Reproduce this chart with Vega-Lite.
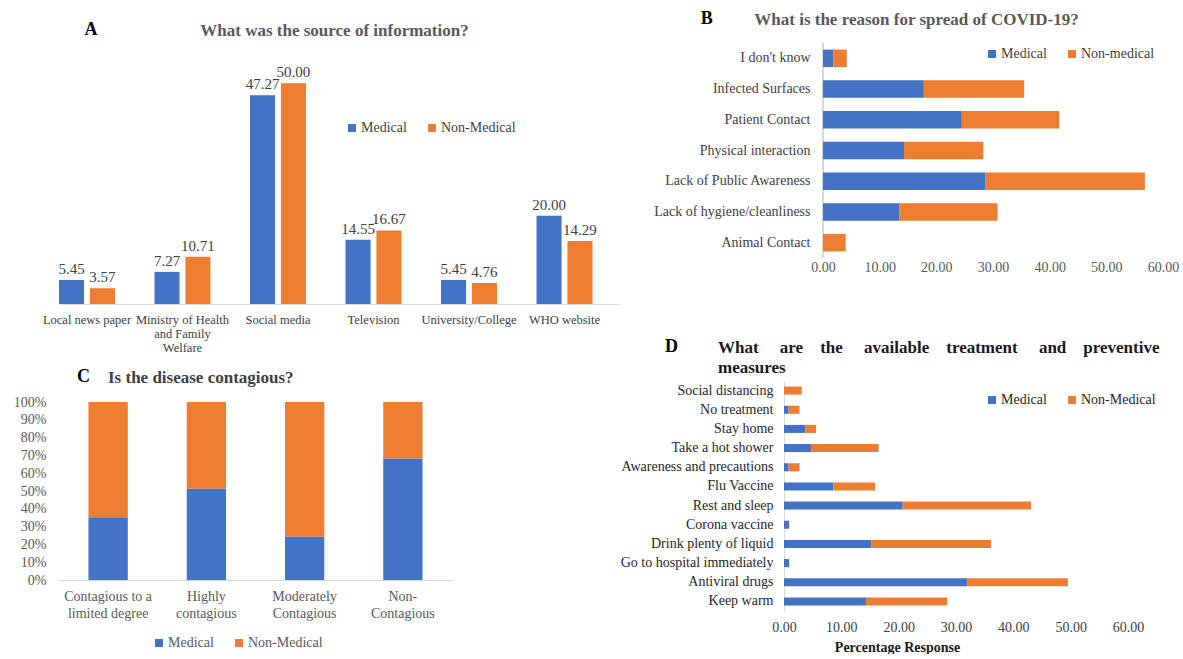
{
  "$schema": "https://vega.github.io/schema/vega-lite/v6.json",
  "background": "white",
  "padding": {"left": 12, "top": 9, "right": 0, "bottom": 0},
  "config": {
    "font": "Liberation Serif",
    "view": {"stroke": null},
    "axis": {"labelFont": "Liberation Serif", "titleFont": "Liberation Serif", "grid": false, "ticks": false},
    "legend": {"labelFont": "Liberation Serif", "titleFont": "Liberation Serif"},
    "title": {"font": "Liberation Serif"}
  },
  "spacing": 0,
  "resolve": {"scale": {"color": "independent"}, "legend": {"color": "independent"}},
  "hconcat": [
    {
      "concat": [
        {
          "title": {"text": "A", "anchor": "start", "fontSize": 18, "fontWeight": "bold", "color": "#000000", "dx": 42, "dy": 17, "offset": 0},
          "resolve": {"scale": {"color": "independent"}, "legend": {"color": "independent"}},
          "hconcat": [
            {
              "width": 561,
              "height": 261,
              "title": {"text": "What was the source of information?", "anchor": "middle", "dx": -5, "fontSize": 17, "fontWeight": "bold", "color": "#595959", "offset": 3},
              "data": {"values": [
                {"source": "Local news paper", "group": "Medical", "value": 5.45},
                {"source": "Local news paper", "group": "Non-Medical", "value": 3.57},
                {"source": "Ministry of Health and Family Welfare", "group": "Medical", "value": 7.27},
                {"source": "Ministry of Health and Family Welfare", "group": "Non-Medical", "value": 10.71},
                {"source": "Social media", "group": "Medical", "value": 47.27},
                {"source": "Social media", "group": "Non-Medical", "value": 50.0},
                {"source": "Television", "group": "Medical", "value": 14.55},
                {"source": "Television", "group": "Non-Medical", "value": 16.67},
                {"source": "University/College", "group": "Medical", "value": 5.45},
                {"source": "University/College", "group": "Non-Medical", "value": 4.76},
                {"source": "WHO website", "group": "Medical", "value": 20.0},
                {"source": "WHO website", "group": "Non-Medical", "value": 14.29}
              ]},
              "encoding": {
                "x": {
                  "field": "source", "type": "nominal",
                  "sort": ["Local news paper", "Ministry of Health and Family Welfare", "Social media", "Television", "University/College", "WHO website"],
                  "scale": {"paddingInner": 0.414, "paddingOuter": 0.144, "align": 0},
                  "axis": {"title": null, "labelAngle": 0, "labelFontSize": 12.5, "labelColor": "#404040", "labelPadding": 9, "labelLineHeight": 14, "domainColor": "#d9d9d9", "labelOverlap": false,
                    "labelExpr": "datum.value == 'Ministry of Health and Family Welfare' ? ['Ministry of Health', 'and Family', 'Welfare'] : datum.value"}
                },
                "xOffset": {"field": "group", "type": "nominal", "sort": ["Medical", "Non-Medical"], "scale": {"paddingInner": 0.19, "paddingOuter": 0}},
                "y": {"field": "value", "type": "quantitative", "scale": {"domain": [0, 59.1]}, "axis": null}
              },
              "layer": [
                {
                  "mark": {"type": "bar"},
                  "encoding": {
                    "color": {"field": "group", "type": "nominal",
                      "scale": {"domain": ["Medical", "Non-Medical"], "range": ["#4472C4", "#ED7D31"]},
                      "legend": {"title": null, "orient": "none", "legendX": 286, "legendY": 78, "direction": "horizontal", "symbolType": "square", "symbolSize": 64, "symbolStrokeWidth": 0, "labelFontSize": 14, "labelColor": "#404040", "labelOffset": 2, "columnPadding": 18}}
                  }
                },
                {
                  "mark": {"type": "text", "dy": -11, "fontSize": 15, "color": "#404040"},
                  "encoding": {"text": {"field": "value", "type": "quantitative", "format": ".2f"}}
                }
              ]
            }
          ]
        },
        {
          "title": {"text": "C", "anchor": "start", "fontSize": 18, "fontWeight": "bold", "color": "#000000", "dx": 65, "dy": 17, "offset": 0},
          "resolve": {"scale": {"color": "independent"}, "legend": {"color": "independent"}},
          "hconcat": [
            {
              "width": 393,
              "height": 178,
              "title": {"text": "Is the disease contagious?", "anchor": "start", "frame": "group", "dx": 49, "fontSize": 17, "fontWeight": "bold", "color": "#404040", "offset": 8},
              "data": {"values": [
                {"category": "Contagious to a limited degree", "group": "Medical", "value": 35.3},
                {"category": "Contagious to a limited degree", "group": "Non-Medical", "value": 64.7},
                {"category": "Highly contagious", "group": "Medical", "value": 51.4},
                {"category": "Highly contagious", "group": "Non-Medical", "value": 48.6},
                {"category": "Moderately Contagious", "group": "Medical", "value": 24.4},
                {"category": "Moderately Contagious", "group": "Non-Medical", "value": 75.6},
                {"category": "Non-Contagious", "group": "Medical", "value": 68.3},
                {"category": "Non-Contagious", "group": "Non-Medical", "value": 31.7}
              ]},
              "mark": {"type": "bar"},
              "encoding": {
                "x": {
                  "field": "category", "type": "nominal",
                  "sort": ["Contagious to a limited degree", "Highly contagious", "Moderately Contagious", "Non-Contagious"],
                  "scale": {"paddingInner": 0.6, "paddingOuter": 0.3},
                  "axis": {"title": null, "labelAngle": 0, "labelFontSize": 14, "labelColor": "#595959", "labelPadding": 9, "labelLineHeight": 17, "domainColor": "#d9d9d9", "labelOverlap": false,
                    "labelExpr": "datum.value == 'Contagious to a limited degree' ? ['Contagious to a', 'limited degree'] : datum.value == 'Highly contagious' ? ['Highly', 'contagious'] : datum.value == 'Moderately Contagious' ? ['Moderately', 'Contagious'] : ['Non-', 'Contagious']"}
                },
                "y": {"field": "value", "type": "quantitative", "stack": "normalize",
                  "axis": {"title": null, "values": [0, 0.1, 0.2, 0.3, 0.4, 0.5, 0.6, 0.7, 0.8, 0.9, 1], "format": ".0%", "domain": false, "labelFontSize": 14, "labelColor": "#595959", "labelPadding": 13, "minExtent": 47, "maxExtent": 47}},
                "order": {"field": "group", "sort": "ascending"},
                "color": {"field": "group", "type": "nominal",
                  "scale": {"domain": ["Medical", "Non-Medical"], "range": ["#4472C4", "#ED7D31"]},
                  "legend": {"title": null, "orient": "none", "legendX": 93, "legendY": 234, "direction": "horizontal", "symbolType": "square", "symbolSize": 64, "symbolStrokeWidth": 0, "labelFontSize": 14, "labelColor": "#595959", "labelOffset": 2, "columnPadding": 18}}
              }
            }
          ]
        }
      ],
      "columns": 1,
      "spacing": 14,
      "resolve": {"scale": {"color": "independent"}, "legend": {"color": "independent"}}
    },
    {
      "concat": [
        {
          "title": {"text": "B", "anchor": "start", "fontSize": 18, "fontWeight": "bold", "color": "#000000", "dx": 47, "dy": 17, "offset": 0},
          "resolve": {"scale": {"color": "independent"}, "legend": {"color": "independent"}},
          "hconcat": [
            {
              "width": 379,
              "height": 215,
              "title": {"text": "What is the reason for spread of COVID-19?", "anchor": "middle", "dx": -57, "fontSize": 17, "fontWeight": "bold", "color": "#595959", "offset": 14},
              "data": {"values": [
                {"reason": "I don't know", "group": "Medical", "value": 1.8},
                {"reason": "I don't know", "group": "Non-medical", "value": 2.4},
                {"reason": "Infected Surfaces", "group": "Medical", "value": 17.8},
                {"reason": "Infected Surfaces", "group": "Non-medical", "value": 17.7},
                {"reason": "Patient Contact", "group": "Medical", "value": 24.5},
                {"reason": "Patient Contact", "group": "Non-medical", "value": 17.2},
                {"reason": "Physical interaction", "group": "Medical", "value": 14.3},
                {"reason": "Physical interaction", "group": "Non-medical", "value": 14.0},
                {"reason": "Lack of Public Awareness", "group": "Medical", "value": 28.7},
                {"reason": "Lack of Public Awareness", "group": "Non-medical", "value": 28.1},
                {"reason": "Lack of hygiene/cleanliness", "group": "Medical", "value": 13.5},
                {"reason": "Lack of hygiene/cleanliness", "group": "Non-medical", "value": 17.3},
                {"reason": "Animal Contact", "group": "Medical", "value": 0},
                {"reason": "Animal Contact", "group": "Non-medical", "value": 4.0}
              ]},
              "layer": [
                {
                  "mark": {"type": "rule", "color": "#d9d9d9", "strokeWidth": 1},
                  "encoding": {"x": {"datum": 0, "type": "quantitative"}}
                },
                {
                  "mark": {"type": "bar"},
                  "encoding": {
                    "y": {
                      "field": "reason", "type": "nominal",
                      "sort": ["I don't know", "Infected Surfaces", "Patient Contact", "Physical interaction", "Lack of Public Awareness", "Lack of hygiene/cleanliness", "Animal Contact"],
                      "scale": {"paddingInner": 0.43, "paddingOuter": 0.215},
                      "axis": {"title": null, "labelFontSize": 14, "labelColor": "#404040", "labelPadding": -26, "domain": false, "labelLimit": 300}
                    },
                    "x": {"field": "value", "type": "quantitative", "stack": "zero", "scale": {"domain": [-6.88, 60], "nice": false, "zero": false},
                      "axis": {"title": null, "values": [0, 10, 20, 30, 40, 50, 60], "format": ".2f", "domain": false, "labelFlush": false, "labelFontSize": 14, "labelColor": "#595959", "labelPadding": 2}},
                    "color": {"field": "group", "type": "nominal",
                      "scale": {"domain": ["Medical", "Non-medical"], "range": ["#4472C4", "#ED7D31"]},
                      "legend": {"title": null, "orient": "none", "legendX": 201, "legendY": 4, "direction": "horizontal", "symbolType": "square", "symbolSize": 64, "symbolStrokeWidth": 0, "labelFontSize": 14, "labelColor": "#404040", "labelOffset": 2, "columnPadding": 18}}
                  }
                }
              ]
            }
          ]
        },
        {
          "title": {"text": "D", "anchor": "start", "fontSize": 18, "fontWeight": "bold", "color": "#000000", "dx": 45, "dy": 17, "offset": 0},
          "resolve": {"scale": {"color": "independent"}, "legend": {"color": "independent"}},
          "hconcat": [
            {
              "width": 344,
              "height": 230,
              "title": {"text": ["What\u00a0\u00a0\u00a0\u00a0\u00a0are\u00a0\u00a0\u00a0\u00a0the\u00a0\u00a0\u00a0\u00a0\u00a0available\u00a0\u00a0\u00a0\u00a0treatment\u00a0\u00a0\u00a0\u00a0\u00a0and\u00a0\u00a0\u00a0\u00a0preventive", "measures"], "anchor": "start", "frame": "group", "dx": -66, "fontSize": 17, "fontWeight": "bold", "color": "#1a1a1a", "lineHeight": 20, "offset": 4},
              "data": {"values": [
                {"measure": "Social distancing", "group": "Medical", "value": 0},
                {"measure": "Social distancing", "group": "Non-Medical", "value": 3.1},
                {"measure": "No treatment", "group": "Medical", "value": 0.8},
                {"measure": "No treatment", "group": "Non-Medical", "value": 1.9},
                {"measure": "Stay home", "group": "Medical", "value": 3.7},
                {"measure": "Stay home", "group": "Non-Medical", "value": 1.9},
                {"measure": "Take a hot shower", "group": "Medical", "value": 4.7},
                {"measure": "Take a hot shower", "group": "Non-Medical", "value": 11.8},
                {"measure": "Awareness and precautions", "group": "Medical", "value": 0.8},
                {"measure": "Awareness and precautions", "group": "Non-Medical", "value": 1.9},
                {"measure": "Flu Vaccine", "group": "Medical", "value": 8.6},
                {"measure": "Flu Vaccine", "group": "Non-Medical", "value": 7.3},
                {"measure": "Rest and sleep", "group": "Medical", "value": 20.7},
                {"measure": "Rest and sleep", "group": "Non-Medical", "value": 22.4},
                {"measure": "Corona vaccine", "group": "Medical", "value": 0.9},
                {"measure": "Corona vaccine", "group": "Non-Medical", "value": 0},
                {"measure": "Drink plenty of liquid", "group": "Medical", "value": 15.2},
                {"measure": "Drink plenty of liquid", "group": "Non-Medical", "value": 20.9},
                {"measure": "Go to hospital immediately", "group": "Medical", "value": 0.9},
                {"measure": "Go to hospital immediately", "group": "Non-Medical", "value": 0},
                {"measure": "Antiviral drugs", "group": "Medical", "value": 32.0},
                {"measure": "Antiviral drugs", "group": "Non-Medical", "value": 17.5},
                {"measure": "Keep warm", "group": "Medical", "value": 14.3},
                {"measure": "Keep warm", "group": "Non-Medical", "value": 14.2}
              ]},
              "mark": {"type": "bar"},
              "encoding": {
                "y": {
                  "field": "measure", "type": "nominal",
                  "sort": ["Social distancing", "No treatment", "Stay home", "Take a hot shower", "Awareness and precautions", "Flu Vaccine", "Rest and sleep", "Corona vaccine", "Drink plenty of liquid", "Go to hospital immediately", "Antiviral drugs", "Keep warm"],
                  "scale": {"paddingInner": 0.58, "paddingOuter": 0.29},
                  "axis": {"title": null, "labelFontSize": 14, "labelColor": "#262626", "labelPadding": 11, "domainColor": "#d9d9d9", "minExtent": 164, "maxExtent": 164, "labelLimit": 300}
                },
                "x": {"field": "value", "type": "quantitative", "stack": "zero", "scale": {"domain": [0, 60], "nice": false},
                  "axis": {"title": "Percentage Response", "values": [0, 10, 20, 30, 40, 50, 60], "format": ".2f", "domain": false, "labelFlush": false, "labelFontSize": 14, "labelColor": "#404040", "labelPadding": 9, "titleFontSize": 14, "titleFontWeight": "bold", "titleColor": "#1a1a1a", "titlePadding": 6, "titleX": 113, "titleAlign": "center", "titleAnchor": null}},
                "color": {"field": "group", "type": "nominal",
                  "scale": {"domain": ["Medical", "Non-Medical"], "range": ["#4472C4", "#ED7D31"]},
                  "legend": {"title": null, "orient": "none", "legendX": 201, "legendY": 12, "direction": "horizontal", "symbolType": "square", "symbolSize": 64, "symbolStrokeWidth": 0, "labelFontSize": 14, "labelColor": "#262626", "labelOffset": 2, "columnPadding": 18}}
              }
            }
          ]
        }
      ],
      "columns": 1,
      "spacing": 64,
      "resolve": {"scale": {"color": "independent"}, "legend": {"color": "independent"}}
    }
  ]
}
